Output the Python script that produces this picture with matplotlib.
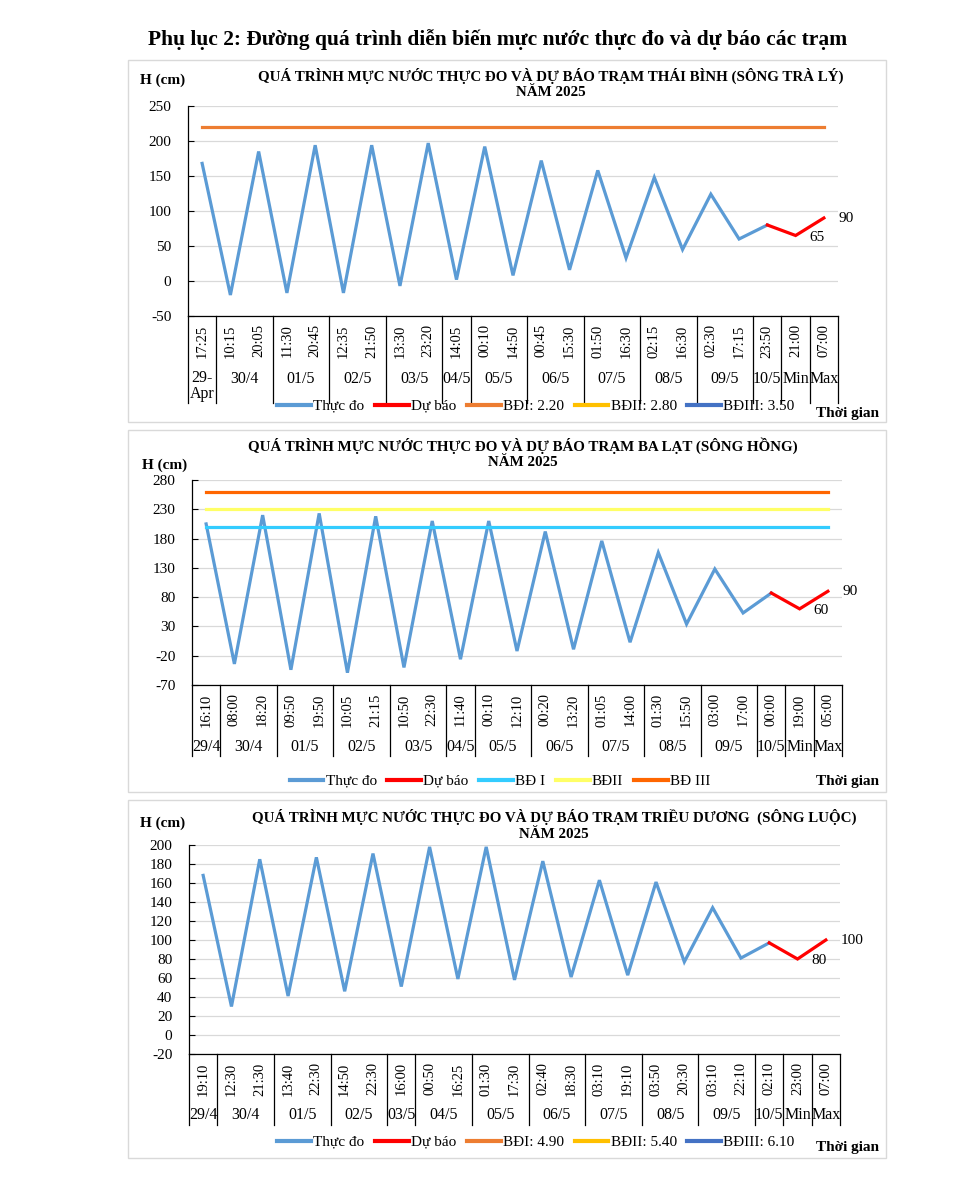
import matplotlib
matplotlib.use('Agg')
import matplotlib.pyplot as plt
import matplotlib.transforms as mtransforms
from matplotlib.patches import Rectangle
from matplotlib.lines import Line2D
import numpy as np

plt.rcParams['font.family'] = ['Liberation Serif', 'DejaVu Serif']
plt.rcParams['axes.unicode_minus'] = False

# ---------------- data ----------------
main_title = "Phụ lục 2: Đường quá trình diễn biến mực nước thực đo và dự báo các trạm"

tb_title = "QUÁ TRÌNH MỰC NƯỚC THỰC ĐO VÀ DỰ BÁO TRẠM THÁI BÌNH (SÔNG TRÀ LÝ)"
tb_times = ["17:25", "10:15", "20:05", "11:30", "20:45", "12:35", "21:50", "13:30",
            "23:20", "14:05", "00:10", "14:50", "00:45", "15:30", "01:50", "16:30",
            "02:15", "16:30", "02:30", "17:15", "23:50", "21:00", "07:00"]
tb_groups = ["29-\nApr", "30/4", "01/5", "02/5", "03/5", "04/5", "05/5", "06/5",
             "07/5", "08/5", "09/5", "10/5", "Min", "Max"]
tb_group_sizes = [1, 2, 2, 2, 2, 1, 2, 2, 2, 2, 2, 1, 1, 1]
tb_obs = [168, -20, 185, -17, 194, -17, 194, -7, 197, 2, 192, 8, 172, 16, 158, 33,
          148, 45, 124, 60, 80]
tb_fc = [80, 65, 90]
tb_levels = [220, 280, 350]
tb_level_names = ["BĐI: 2.20", "BĐII: 2.80", "BĐIII: 3.50"]

bl_title = "QUÁ TRÌNH MỰC NƯỚC THỰC ĐO VÀ DỰ BÁO TRẠM BA LẠT (SÔNG HỒNG)"
bl_times = ["16:10", "08:00", "18:20", "09:50", "19:50", "10:05", "21:15", "10:50",
            "22:30", "11:40", "00:10", "12:10", "00:20", "13:20", "01:05", "14:00",
            "01:30", "15:50", "03:00", "17:00", "00:00", "19:00", "05:00"]
bl_groups = ["29/4", "30/4", "01/5", "02/5", "03/5", "04/5", "05/5", "06/5",
             "07/5", "08/5", "09/5", "10/5", "Min", "Max"]
bl_group_sizes = [1, 2, 2, 2, 2, 1, 2, 2, 2, 2, 2, 1, 1, 1]
bl_obs = [205, -34, 220, -44, 223, -49, 218, -40, 210, -26, 210, -12, 192, -9, 176, 3,
          156, 34, 128, 53, 87]
bl_fc = [87, 60, 90]
bl_levels = [200, 230, 260]
bl_level_names = ["BĐ I", "BĐII", "BĐ III"]

td_title = "QUÁ TRÌNH MỰC NƯỚC THỰC ĐO VÀ DỰ BÁO TRẠM TRIỀU DƯƠNG  (SÔNG LUỘC)"
td_times = ["19:10", "12:30", "21:30", "13:40", "22:30", "14:50", "22:30", "16:00",
            "00:50", "16:25", "01:30", "17:30", "02:40", "18:30", "03:10", "19:10",
            "03:50", "20:30", "03:10", "22:10", "02:10", "23:00", "07:00"]
td_groups = ["29/4", "30/4", "01/5", "02/5", "03/5", "04/5", "05/5", "06/5",
             "07/5", "08/5", "09/5", "10/5", "Min", "Max"]
td_group_sizes = [1, 2, 2, 2, 1, 2, 2, 2, 2, 2, 2, 1, 1, 1]
td_obs = [168, 30, 185, 41, 187, 46, 191, 51, 198, 59, 198, 58, 183, 61, 163, 63,
          161, 77, 134, 81, 97]
td_fc = [97, 80, 100]
td_levels = [490, 540, 610]
td_level_names = ["BĐI: 4.90", "BĐII: 5.40", "BĐIII: 6.10"]

obs_label = "Thực đo"
fc_label = "Dự báo"
year_label = "NĂM 2025"

# ---------------- styling ----------------
W, H = 965, 1179
OBS_COLOR = "#5B9BD5"
FC_COLOR = "#FF0000"
LV_COLORS_A = ["#ED7D31", "#FFC000", "#4472C4"]
LV_COLORS_B = ["#33CCFF", "#FFFF66", "#FF6600"]
GRID = "#D9D9D9"

fig = plt.figure(figsize=(W / 100, H / 100), dpi=100)


def fx(x):
    return x / W


def fy(y):
    return 1 - y / H


fig.text(fx(498), fy(40), main_title, ha="center", va="center",
         fontsize=15.5, fontweight="bold")


def panel(box, ax_px, title, tcx, ty, hpos, ylim, ystep, times, groups, sizes,
          obs, fc, levels, level_names, level_colors, date_y, sep_bottom,
          leg_xy, tg_y):
    # frame
    fig.patches.append(Rectangle((fx(box[0]), fy(box[3])), (box[2] - box[0]) / W,
                                 (box[3] - box[1]) / H, transform=fig.transFigure,
                                 fill=False, edgecolor=GRID, lw=1.0))
    l, t, r, b = ax_px
    ax = fig.add_axes([fx(l), fy(b), (r - l) / W, (b - t) / H])
    n = len(times)
    x = np.arange(n)
    xo = np.arange(len(obs))
    xf = np.arange(len(obs) - 1, len(obs) - 1 + len(fc))
    ax.plot(xo, obs, color=OBS_COLOR, lw=2.3, solid_joinstyle="miter", zorder=3)
    ax.plot(xf, fc, color=FC_COLOR, lw=2.3, solid_joinstyle="miter", zorder=3)
    for lv, c in zip(levels, level_colors):
        ax.plot(x, np.full(n, lv), color=c, lw=2.3, zorder=4)
    ax.set_xlim(-0.5, n - 0.5)
    ax.set_ylim(*ylim)
    ax.set_yticks(np.arange(ylim[0], ylim[1] + 1, ystep))
    ax.tick_params(axis="y", labelsize=11, direction="in", length=4, width=0.8,
                   pad=12)
    ax.grid(axis="y", color=GRID, lw=0.9)
    ax.set_axisbelow(True)
    for s in ["top", "right"]:
        ax.spines[s].set_visible(False)
    ax.spines["left"].set_linewidth(0.9)
    ax.spines["bottom"].set_linewidth(0.9)
    ax.set_xticks(x)
    ax.set_xticklabels(times, rotation=90, fontsize=10.5)
    ax.tick_params(axis="x", length=0, pad=6)

    # data labels on forecast min/max
    ax.annotate(str(fc[1]), (xf[1], fc[1]), xytext=(14, -2), textcoords="offset pixels",
                ha="left", va="center", fontsize=11)
    ax.annotate(str(fc[2]), (xf[2], fc[2]), xytext=(15, 0), textcoords="offset pixels",
                ha="left", va="center", fontsize=11)

    # multi-level category axis
    tr = mtransforms.blended_transform_factory(ax.transData, fig.transFigure)
    bounds = np.concatenate([[0], np.cumsum(sizes)]) - 0.5
    for bx in bounds:
        ax.plot([bx, bx], [fy(b), fy(sep_bottom)], color="black", lw=0.9,
                transform=tr, clip_on=False)
    for g, s0, s1 in zip(groups, bounds[:-1], bounds[1:]):
        if "\n" in g:
            ax.text((s0 + s1) / 2, fy(date_y - 9), g, transform=tr, ha="center",
                    va="top", fontsize=11.5, linespacing=1.0)
        else:
            ax.text((s0 + s1) / 2, fy(date_y), g, transform=tr, ha="center",
                    va="center", fontsize=11.5)

    # titles
    fig.text(fx(tcx), fy(ty), title, ha="center", va="center", fontsize=10.8,
             fontweight="bold")
    fig.text(fx(tcx), fy(ty + 17), year_label, ha="center", va="center",
             fontsize=10.8, fontweight="bold")
    fig.text(fx(hpos[0]), fy(hpos[1]), "H (cm)", ha="center", va="center",
             fontsize=11, fontweight="bold")
    fig.text(fx(848), fy(tg_y), "Thời gian", ha="center", va="center",
             fontsize=11, fontweight="bold")

    handles = [Line2D([], [], color=OBS_COLOR, lw=3),
               Line2D([], [], color=FC_COLOR, lw=3)] + \
              [Line2D([], [], color=c, lw=3) for c in level_colors]
    labels = [obs_label, fc_label] + level_names
    fig.legend(handles, labels, loc="center", bbox_to_anchor=(fx(leg_xy[0]), fy(leg_xy[1])),
               bbox_transform=fig.transFigure, ncol=5, frameon=False, fontsize=11,
               handlelength=2.2, handletextpad=0.15, columnspacing=0.7)
    return ax


panel((128, 60, 886, 422), (188, 106, 838, 316), tb_title, 551, 76, (163, 80),
      (-50, 250), 50, tb_times, tb_groups, tb_group_sizes, tb_obs, tb_fc,
      tb_levels, tb_level_names, LV_COLORS_A, 379, 403, (536, 406), 413)

panel((128, 430, 886, 792), (192, 480, 842, 685), bl_title, 523, 446, (165, 465),
      (-70, 280), 50, bl_times, bl_groups, bl_group_sizes, bl_obs, bl_fc,
      bl_levels, bl_level_names, LV_COLORS_B, 747, 756, (500, 781), 782)

panel((128, 800, 886, 1158), (189, 845, 840, 1054), td_title, 554, 817, (163, 823),
      (-20, 200), 20, td_times, td_groups, td_group_sizes, td_obs, td_fc,
      td_levels, td_level_names, LV_COLORS_A, 1115, 1125, (536, 1142), 1147)

fig.savefig("out.png", dpi=100)
